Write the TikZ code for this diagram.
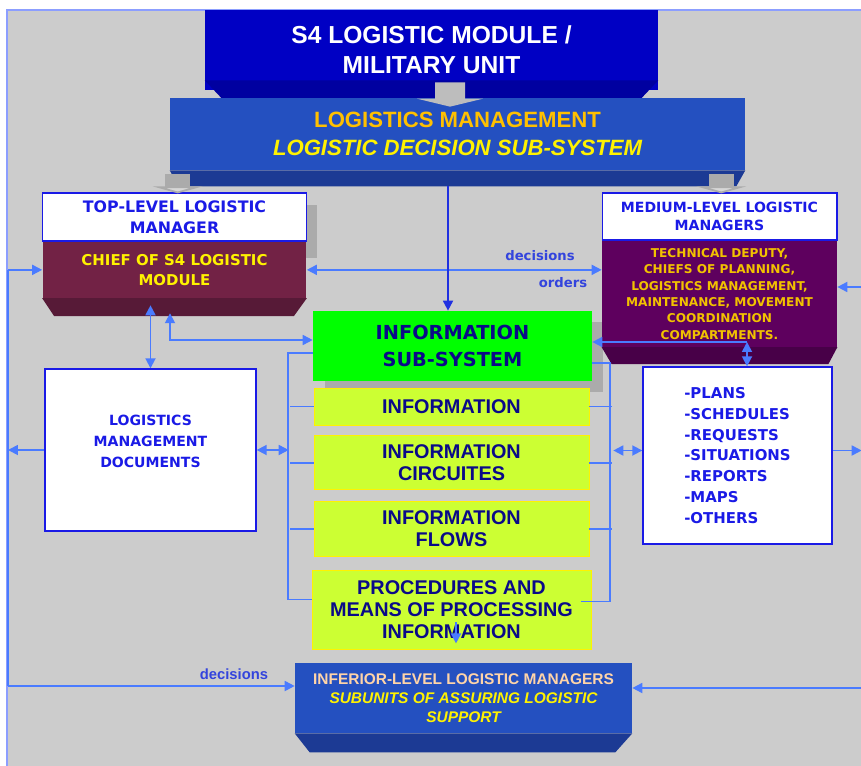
\documentclass[tikz,border=0pt]{standalone}
\usepackage{fontspec}
\setmainfont{Liberation Sans}
\newfontfamily\dvs{DejaVu Sans}
\usetikzlibrary{positioning,calc,arrows.meta}
\definecolor{bggray}{HTML}{CCCCCC}
\definecolor{framecol}{HTML}{8C9EFF}
\definecolor{linkcol}{HTML}{4A7BFF}
\definecolor{downcol}{HTML}{2030E0}
\definecolor{unitblue}{HTML}{0000C4}
\definecolor{unitbevel}{HTML}{0000A0}
\definecolor{mgmtblue}{HTML}{2450C0}
\definecolor{mgmtbevel}{HTML}{1C3A94}
\definecolor{chiefred}{HTML}{722245}
\definecolor{chiefbevel}{HTML}{571A37}
\definecolor{staffplum}{HTML}{5E005E}
\definecolor{staffbevel}{HTML}{480048}
\definecolor{sysgreen}{HTML}{00FF00}
\definecolor{pear}{HTML}{CCFF33}
\definecolor{hdrblue}{HTML}{1A1AE6}
\definecolor{navytext}{HTML}{0A0A88}
\definecolor{goldtext}{HTML}{FFC000}
\definecolor{stafftext}{HTML}{F2C200}
\definecolor{peach}{HTML}{FFD4A8}
\definecolor{tagblue}{HTML}{3344DD}
\definecolor{shadowgray}{HTML}{ABABAB}
\definecolor{arrowgray}{HTML}{BDBDBD}

\begin{document}
\begin{tikzpicture}[x=0.02cm, y=-0.02cm,
    every node/.style={inner sep=0pt, align=center},
    face/.style={draw=none},
    hdr/.style={fill=white, draw=hdrblue, line width=0.6pt, text=hdrblue},
    infobox/.style={fill=pear, draw=yellow, line width=0.4pt, text=navytext, minimum width=5.5cm, font=\fontsize{11.3}{12.5}\selectfont\bfseries},
    docbox/.style={fill=white, draw=hdrblue, line width=0.8pt},
    conn/.style={draw=linkcol, line width=1pt},
    tag/.style={text=tagblue, font=\dvs\fontsize{7.5}{9}\selectfont\bfseries},
    bigarrow/.style={draw=arrowgray, line width=0.6cm, -{Triangle[width=1.32cm,length=0.16cm]}},
    sidearrow/.style={draw=shadowgray, line width=0.5cm, -{Triangle[width=1cm,length=0.14cm,fill=arrowgray!60]}},
    >={Triangle[length=2mm,width=2mm]}]
  \useasboundingbox (0,0) rectangle (861,766);
  \fill[bggray] (6,9) rectangle (861,766);
  \draw[framecol, line width=0.04cm] (861,10) -- (7,10) -- (7,766);

  \fill[shadowgray] (306,205) rectangle (317,258);
  \fill[shadowgray] (325,322) rectangle (603,392);

  \node at (431.5,50) (s4) [face, fill=unitblue, minimum width=9.06cm, minimum height=1.6cm, text=white, font=\fontsize{14}{17}\selectfont\bfseries] {S4 LOGISTIC MODULE /\\MILITARY UNIT};
  \fill[unitbevel] ($(s4.south west)+(0,-10)$) -- ($(s4.south east)+(0,-10)$) -- ($(s4.south east)+(-17,8)$) -- ($(s4.south west)+(17,8)$) -- cycle;

  \node at (457.5,134) (mgmt) [face, fill=mgmtblue, minimum width=11.5cm, minimum height=1.44cm, font=\fontsize{12.6}{16}\selectfont\bfseries] {\textcolor{goldtext}{LOGISTICS MANAGEMENT}\\\textcolor{yellow}{\itshape LOGISTIC DECISION SUB-SYSTEM}};
  \fill[mgmtbevel] (mgmt.south west) -- (mgmt.south east) -- ($(mgmt.south east)+(-9,16)$) -- ($(mgmt.south west)+(9,16)$) -- cycle;

  \node at (174.5,217) (tophdr) [hdr, minimum width=5.28cm, minimum height=0.96cm, font=\dvs\fontsize{9}{11.9}\selectfont\bfseries] {TOP-LEVEL LOGISTIC\\MANAGER};
  \node (chief) [below=0pt of tophdr, face, fill=chiefred, minimum width=5.28cm, minimum height=1.12cm, text=yellow, font=\dvs\fontsize{8.5}{11.3}\selectfont\bfseries] {CHIEF OF S4 LOGISTIC\\MODULE};
  \fill[chiefbevel] (chief.south west) -- (chief.south east) -- ($(chief.south east)+(-13,18)$) -- ($(chief.south west)+(12,18)$) -- cycle;

  \node at (719.5,216.5) (midhdr) [hdr, minimum width=4.7cm, minimum height=0.94cm, font=\dvs\fontsize{8}{10.2}\selectfont\bfseries] {MEDIUM-LEVEL LOGISTIC\\MANAGERS};
  \node (staff) [below=0pt of midhdr, face, fill=staffplum, minimum width=4.7cm, minimum height=2.12cm, text=stafftext, font=\dvs\fontsize{6.9}{9.3}\selectfont\bfseries] {TECHNICAL DEPUTY,\\CHIEFS OF PLANNING,\\LOGISTICS MANAGEMENT,\\MAINTENANCE, MOVEMENT\\COORDINATION\\COMPARTMENTS.};
  \fill[staffbevel] (staff.south west) -- (staff.south east) -- ($(staff.south east)+(-9,17)$) -- ($(staff.south west)+(10,17)$) -- cycle;

  \node at (452.5,346) (infosys) [fill=sysgreen, minimum width=5.58cm, minimum height=1.4cm, text=navytext, font=\dvs\fontsize{11}{15.3}\selectfont\bfseries] {INFORMATION\\SUB-SYSTEM};
  \node at (451.5,406.5) (info1) [infobox, minimum height=0.74cm] {INFORMATION};
  \node (info2) [below=0.2cm of info1, infobox, minimum height=1.08cm] {INFORMATION\\CIRCUITES};
  \node (info3) [below=0.22cm of info2, infobox, minimum height=1.1cm] {INFORMATION\\FLOWS};
  \node (proc) [below=0.26cm of info3, infobox, minimum width=5.58cm, minimum height=1.58cm] {PROCEDURES AND\\MEANS OF PROCESSING\\INFORMATION};

  \node at (150.5,450) (docs) [docbox, minimum width=4.22cm, minimum height=3.24cm] {};
  \node at (150.5,441) (docstext) [text=hdrblue, font=\dvs\fontsize{8}{11.9}\selectfont\bfseries] {LOGISTICS\\MANAGEMENT\\DOCUMENTS};
  \node at (737.5,455.5) (list) [docbox, minimum width=3.78cm, minimum height=3.54cm, align=left, text=hdrblue, font=\dvs\fontsize{8.5}{11.8}\selectfont\bfseries] {-PLANS\\-SCHEDULES\\-REQUESTS\\-SITUATIONS\\-REPORTS\\-MAPS\\-OTHERS};

  \node at (463.5,698) (inferior) [face, fill=mgmtblue, minimum width=6.74cm, minimum height=1.4cm, font=\fontsize{8.8}{10.8}\selectfont\bfseries] {\textcolor{peach}{INFERIOR-LEVEL LOGISTIC MANAGERS}\\\textcolor{yellow}{\itshape SUBUNITS OF ASSURING LOGISTIC}\\\textcolor{yellow}{\itshape SUPPORT}};
  \fill[mgmtbevel] (inferior.south west) -- (inferior.south east) -- ($(inferior.south east)+(-17,19)$) -- ($(inferior.south west)+(15,19)$) -- cycle;

  \coordinate (lbus) at (8,450);
  \coordinate (lb) at (8,686);
  \coordinate (rin) at (861,287);
  \coordinate (rlow) at (861,688);
  \coordinate (sg) at (747,342);
  \coordinate (mg) at (448,186);

  \draw[conn,->] (lbus |- chief.west) -- (chief.west);
  \draw[conn] (lbus |- chief.west) -- (lb);
  \draw[conn,->] (lb) -- (lb -| inferior.west);
  \draw[conn,->] (docs.west) -- (docs.west -| lbus);
  \draw[conn,<->] ($(docs.north)+(0,-63)$) -- (docs.north);
  \draw[conn,<->] ($(chief.south)+(-4.5,15)$) |- ($(infosys.west)+(0,-6)$);
  \draw[conn,<->] (chief.east) -- (chief.east -| staff.west);
  \draw[conn,->] (rin) -- (rin -| staff.east);
  \draw[conn,->] (sg) -- (sg -| infosys.east);
  \draw[conn,<->] (sg) -- (sg |- list.north);
  \draw[downcol, line width=1pt, ->] (mg) -- (mg |- infosys.north);

  \draw[conn] ($(infosys.west)+(0,7)$) -| ($(proc.west)+(-24,-10)$) -- ($(proc.west)+(0,-10)$);
  \draw[conn] ($(infosys.east)+(0,17)$) -| ($(proc.east)+(19,-8)$) -- ($(proc.east)+(-10,-8)$);
  \foreach \b in {info1,info2,info3} {
    \draw[conn] (\b.west) -- ++(-24,0);
    \draw[conn] (\b.east) -- ++(23,0);
  }
  \draw[conn,<->] (docs.east) -- ++(32,0);
  \draw[conn,<->] ($(list.west)+(-29,-5)$) -- ($(list.west)+(0,-5)$);
  \draw[conn,->] ($(list.east)+(0,-5)$) -- ++(29,0);
  \draw[conn,->] (rlow) -- (rlow -| inferior.east);
  \draw[conn,->] ($(proc.south)+(4.5,-27)$) -- ($(proc.south)+(4.5,-6)$);

  \node at (540,256) (dec1) [tag] {decisions};
  \node at (563,283) (ord) [tag] {orders};
  \node at (234,674) (dec2) [text=tagblue, font=\fontsize{8.4}{10}\selectfont\bfseries] {decisions};

  \draw[bigarrow] ($(s4.south)+(18.5,-8)$) -- ($(mgmt.north)+(-7.5,9)$);
  \draw[sidearrow] ($(mgmt.south west)+(8,4)$) -- ($(mgmt.south west)+(8,23)$);
  \draw[sidearrow] ($(mgmt.south east)+(-24,4)$) -- ($(mgmt.south east)+(-24,23)$);
\end{tikzpicture}
\end{document}
